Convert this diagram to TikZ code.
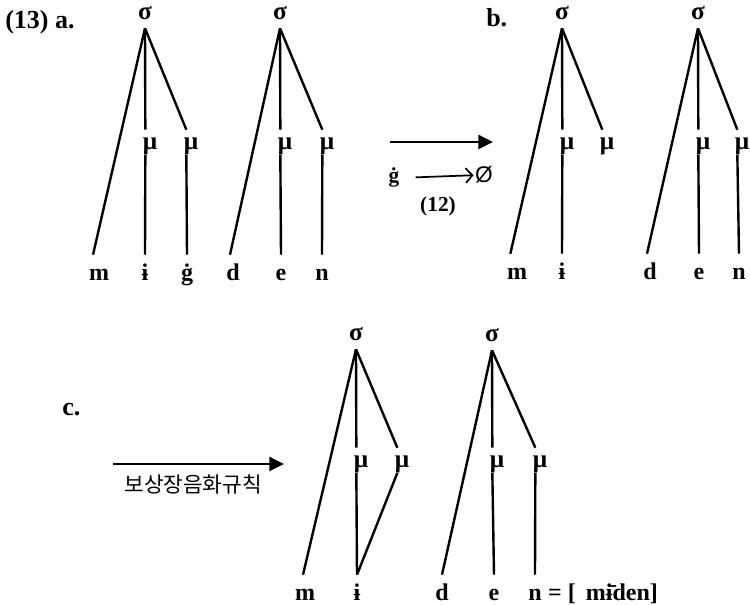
\documentclass[tikz,border=0pt]{standalone}
\usepackage{fontspec}
\setmainfont{Liberation Serif}
\newfontfamily\korfont{Noto Sans CJK KR}
\newfontfamily\emptysetfont{Liberation Sans}
\usetikzlibrary{positioning, arrows.meta}

\begin{document}
\begin{tikzpicture}[
  x=0.75pt,
  y=-0.75pt,
  seg/.style={line width=1.8pt},
  syl/.style={
    anchor=base,
    inner sep=0pt,
    text depth=6pt,
    font=\fontsize{19}{22}\selectfont\bfseries
  },
  mora/.style={
    anchor=base,
    inner sep=0pt,
    text height=15pt,
    text depth=3.5pt,
    font=\fontsize{19}{22}\selectfont\bfseries
  },
  seglab/.style={
    anchor=base,
    inner sep=0pt,
    text height=19.5pt,
    text depth=4pt,
    font=\fontsize{18}{21}\selectfont\bfseries
  },
  tag/.style={
    anchor=base west,
    inner sep=0pt,
    font=\fontsize{19.5}{23}\selectfont\bfseries
  },
  bigarrow/.style={seg, -{Triangle[length=11pt, width=10.5pt]}}
]
\useasboundingbox (0,0) rectangle (750,605);

% (13) a.
\node[tag] (taga) at (5,29) {(13) a.};

% a, first syllable
\node[syl] (sa1) at (145,20) {σ};
\node[mora] (ma1) at (150,150) {μ};
\node[mora] (ma2) at (191,150) {μ};
\node[seglab] (m1) at (99,281) {m};
\node[seglab] (i1) at (145,281) {ɨ};
\node[seglab] (g1) at (187,281) {ġ};
\draw[seg] (sa1.south) -- ([xshift=-4.5pt]m1.north);
\draw[seg] (sa1.south) -- ([xshift=-3.5pt]ma1.north);
\draw[seg] (sa1.south) -- ([xshift=-3.5pt]ma2.north);
\draw[seg] ([xshift=-3.5pt]ma1.south) -- (i1.north);
\draw[seg] ([xshift=-3.5pt]ma2.south) -- (g1.north);

% a, second syllable
\node[syl] (sa2) at (280,20) {σ};
\node[mora] (ma3) at (285,150) {μ};
\node[mora] (ma4) at (327,150) {μ};
\node[seglab] (d1) at (233,281) {d};
\node[seglab] (e1) at (281,281) {e};
\node[seglab] (n1) at (322,281) {n};
\draw[seg] (sa2.south) -- ([xshift=-2.25pt]d1.north);
\draw[seg] (sa2.south) -- ([xshift=-3.5pt]ma3.north);
\draw[seg] (sa2.south) -- ([xshift=-3.5pt]ma4.north);
\draw[seg] ([xshift=-3.5pt]ma3.south) -- (e1.north);
\draw[seg] ([xshift=-3.5pt]ma4.south) -- (n1.north);

% a -> b, with rule (12)
\coordinate (ab0) at (390,142);
\coordinate (ab1) at (493,142);
\draw[bigarrow] (ab0) -- (ab1);
\node[tag, anchor=base, font=\fontsize{16}{19}\selectfont\bfseries] (gdel) at (394,183) {ġ};
\node[anchor=base, inner sep=0pt, font=\emptysetfont\fontsize{17}{20}\selectfont] (zero) at (484,183) {Ø};
\draw[line width=1.3pt, -{Straight Barb[length=5pt, width=11pt]}, shorten <=12pt, shorten >=1pt] (gdel.east) -- (zero.west);
\node[tag, anchor=base, font=\fontsize{16}{19}\selectfont\bfseries] (rulenum) at (438,212) {(12)};

% b.
\node[tag] (tagb) at (486,27) {b.};

% b, first syllable
\node[syl] (sb1) at (562,20) {σ};
\node[mora] (mb1) at (567,150) {μ};
\node[mora] (mb2) at (607,150) {μ};
\node[seglab] (m2) at (517,280) {m};
\node[seglab] (i2) at (562,280) {ɨ};
\draw[seg] (sb1.south) -- ([xshift=-5pt]m2.north);
\draw[seg] (sb1.south) -- ([xshift=-3.5pt]mb1.north);
\draw[seg] (sb1.south) -- ([xshift=-3.5pt]mb2.north);
\draw[seg] ([xshift=-3.5pt]mb1.south) -- (i2.north);

% b, second syllable
\node[syl] (sb2) at (698,20) {σ};
\node[mora] (mb3) at (703,150) {μ};
\node[mora] (mb4) at (742,150) {μ};
\node[seglab] (d2) at (650,280) {d};
\node[seglab] (e2) at (699,280) {e};
\node[seglab] (n2) at (739,280) {n};
\draw[seg] (sb2.south) -- ([xshift=-2.25pt]d2.north);
\draw[seg] (sb2.south) -- ([xshift=-3.5pt]mb3.north);
\draw[seg] (sb2.south) -- ([xshift=-3.5pt]mb4.north);
\draw[seg] ([xshift=-3.5pt]mb3.south) -- (e2.north);
\draw[seg] ([xshift=-3.5pt]mb4.south) -- (n2.north);

% c.
\node[tag] (tagc) at (62,416) {c.};
\coordinate (bc0) at (113,464);
\coordinate (bc1) at (284,464);
\draw[bigarrow] (bc0) -- (bc1)
  node[midway, below=7pt, xshift=-4pt, inner sep=0pt, font=\korfont\fontsize{16}{18}\selectfont] (rule) {보상장음화규칙};

% c, first syllable
\node[syl] (sc1) at (356,341) {σ};
\node[mora] (mc1) at (361,468) {μ};
\node[mora] (mc2) at (402,468) {μ};
\node[seglab] (m3) at (305,601) {m};
\node[seglab] (i3) at (357,601) {ɨ};
\draw[seg] (sc1.south) -- ([xshift=-1.5pt]m3.north);
\draw[seg] (sc1.south) -- ([xshift=-3.5pt]mc1.north);
\draw[seg] (sc1.south) -- ([xshift=-3.5pt]mc2.north);
\draw[seg] ([xshift=-3.5pt]mc1.south) -- (i3.north);
\draw[seg] ([xshift=-3.5pt]mc2.south) -- (i3.north);

% c, second syllable
\node[syl] (sc2) at (492,342) {σ};
\node[mora] (mc3) at (497,468) {μ};
\node[mora] (mc4) at (540,468) {μ};
\node[seglab] (d3) at (442,601) {d};
\node[seglab] (e3) at (494,601) {e};
\node[seglab] (n3) at (535,601) {n};
\node[seglab, right=4.5pt of n3] (surface) {= [\ \,mɨ̄den]};
\draw[seg] (sc2.south) -- (d3.north);
\draw[seg] (sc2.south) -- ([xshift=-3.5pt]mc3.north);
\draw[seg] (sc2.south) -- ([xshift=-3.5pt]mc4.north);
\draw[seg] ([xshift=-3.5pt]mc3.south) -- (e3.north);
\draw[seg] ([xshift=-3.5pt]mc4.south) -- (n3.north);

\end{tikzpicture}
\end{document}
